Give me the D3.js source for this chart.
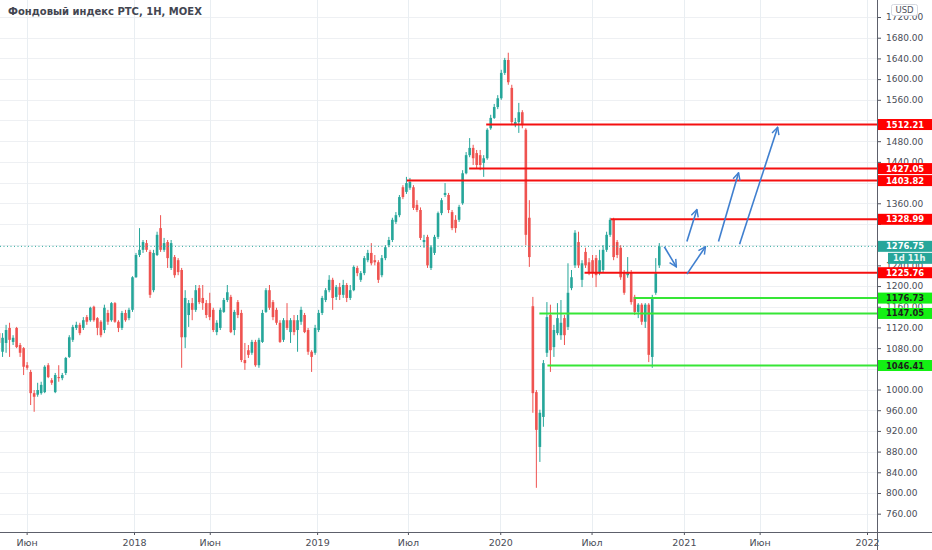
<!DOCTYPE html>
<html>
<head>
<meta charset="utf-8">
<script src="https://cdn.jsdelivr.net/npm/d3@7"></script>
<style>
  body { margin: 0; background: #fff; }
  svg { display: block; }
</style>
</head>
<body>
<div id="chart"></div>
<script>
// weekly candles, RTS index
const title = 'Фондовый индекс РТС, 1Н, MOEX';
const firstWeek = '2017-04-07';
const opens = [1109,1073,1090,1119,1092,1119,1086,1080,1047,1034,993,990,993,995,1047,1018,995,1024,1022,1032,
  1063,1096,1119,1125,1119,1140,1134,1160,1138,1131,1115,1148,1134,1167,1131,1119,1148,1138,1154,1217,
  1260,1270,1283,1266,1192,1260,1312,1270,1285,1235,1256,1250,1231,1101,1144,1167,1154,1196,1177,1167,
  1167,1154,1111,1119,1150,1173,1179,1115,1169,1148,1057,1076,1071,1092,1047,1092,1150,1192,1169,1154,
  1129,1096,1134,1111,1134,1115,1131,1144,1115,1073,1071,1115,1148,1173,1192,1212,1179,1198,1183,1202,
  1177,1192,1235,1212,1225,1250,1264,1250,1246,1221,1254,1279,1289,1324,1337,1391,1382,1390,1391,1357,
  1347,1285,1295,1235,1264,1295,1341,1376,1376,1343,1328,1328,1360,1418,1453,1467,1457,1453,1438,1447,
  1505,1525,1546,1563,1612,1637,1583,1511,1517,1536,1502,1332,1161,995,889,947,1071,1144,1082,1109,
  1105,1138,1121,1196,1240,1285,1212,1266,1246,1250,1254,1227,1231,1270,1299,1328,1285,1274,1227,1221,
  1227,1179,1150,1164,1131,1164,1063,1187,1240];
const highs = [1111,1109,1125,1129,1105,1121,1090,1082,1053,1038,999,1013,1015,1047,1051,1022,1032,1047,1032,1063,
  1105,1125,1131,1129,1140,1144,1160,1162,1140,1134,1164,1154,1169,1169,1134,1152,1154,1158,1219,1264,
  1312,1289,1289,1270,1270,1305,1337,1293,1289,1289,1260,1254,1235,1192,1173,1177,1202,1202,1202,1173,
  1187,1158,1134,1158,1177,1202,1183,1154,1173,1154,1090,1086,1096,1096,1100,1154,1196,1202,1173,1158,
  1134,1138,1167,1138,1144,1144,1160,1148,1119,1076,1125,1154,1181,1196,1221,1216,1202,1206,1212,1206,
  1202,1240,1239,1229,1258,1270,1283,1260,1250,1260,1279,1295,1332,1343,1376,1395,1411,1409,1395,1366,
  1352,1299,1299,1279,1299,1344,1370,1399,1380,1347,1337,1357,1424,1459,1486,1473,1463,1463,1453,1505,
  1531,1552,1569,1618,1641,1651,1589,1525,1554,1540,1505,1366,1179,999,961,1057,1169,1164,1125,1167,
  1173,1144,1244,1231,1308,1305,1250,1274,1254,1260,1260,1270,1279,1305,1332,1332,1289,1279,1231,1256,
  1231,1183,1167,1167,1167,1167,1183,1254,1283];
const lows = [1082,1063,1071,1063,1086,1080,1063,1028,1038,970,957,986,990,993,1022,1009,993,1015,1018,1028,
  1061,1092,1115,1105,1115,1125,1131,1131,1105,1101,1109,1125,1131,1129,1111,1115,1131,1134,1150,1216,
  1256,1264,1266,1177,1188,1258,1266,1266,1235,1231,1216,1221,1042,1080,1121,1134,1150,1165,1154,1138,
  1134,1111,1105,1115,1148,1169,1109,1105,1138,1053,1038,1061,1067,1044,1042,1090,1148,1154,1134,1125,
  1090,1092,1115,1090,1105,1073,1125,1109,1067,1034,1067,1111,1144,1169,1188,1154,1173,1173,1177,1169,
  1173,1190,1219,1208,1221,1246,1240,1240,1206,1217,1250,1275,1285,1320,1333,1368,1378,1386,1347,1343,
  1289,1274,1235,1231,1260,1291,1337,1372,1341,1308,1303,1324,1357,1416,1449,1434,1428,1424,1411,1444,
  1502,1523,1542,1560,1608,1589,1511,1507,1496,1505,1279,1237,955,810,860,928,1063,1034,1063,1105,
  1096,1086,1115,1192,1235,1235,1198,1235,1221,1216,1198,1221,1227,1266,1295,1250,1254,1212,1183,1216,
  1164,1144,1138,1125,1119,1053,1042,1183,1235];
const closes = [1090,1100,1115,1096,1100,1082,1071,1044,1042,993,986,999,1009,1044,1024,1013,1028,1022,1028,1061,
  1101,1121,1125,1109,1134,1131,1158,1134,1119,1105,1158,1131,1167,1131,1119,1148,1134,1154,1217,1260,
  1270,1285,1270,1183,1264,1299,1270,1283,1254,1283,1221,1227,1101,1177,1167,1154,1192,1169,1167,1144,
  1140,1115,1129,1154,1173,1188,1111,1150,1144,1057,1051,1067,1092,1047,1096,1148,1192,1158,1140,1129,
  1092,1134,1119,1134,1111,1134,1154,1111,1073,1063,1119,1148,1177,1192,1212,1177,1198,1183,1202,1177,
  1192,1237,1225,1225,1254,1264,1244,1246,1212,1254,1275,1289,1328,1337,1372,1372,1399,1401,1351,1347,
  1293,1289,1240,1275,1295,1341,1366,1380,1347,1312,1312,1353,1418,1453,1467,1447,1434,1434,1447,1502,
  1525,1546,1563,1612,1637,1594,1517,1517,1536,1511,1299,1256,993,922,955,1051,1140,1076,1115,1138,
  1129,1105,1187,1217,1303,1240,1244,1240,1227,1225,1221,1250,1270,1299,1328,1256,1260,1217,1187,1227,
  1169,1150,1164,1131,1164,1067,1177,1225,1276.75];

const lastPrice = 1276.75;
const countdown = '1d 11h';

const resistance = [1512.21, 1427.05, 1403.82, 1328.99, 1225.76];
const resistanceFrom = ['2019-12-04', '2019-10-31', '2019-06-29', '2020-08-08', '2020-06-17'];
const support = [1176.73, 1147.05, 1046.41];
const supportFrom = ['2020-09-24', '2020-03-19', '2020-04-04'];

// forecast arrows: from date/price -> to date/price
const arrowFromDates = ['2020-11-23', '2021-01-07', '2021-01-07', '2021-03-11', '2021-04-22'];
const arrowFromPrices = [1276, 1223, 1286, 1286, 1281];
const arrowToDates = ['2020-12-17', '2021-02-13', '2021-01-27', '2021-04-20', '2021-07-07'];
const arrowToPrices = [1237, 1276, 1348, 1419, 1507];

const timeTicks = ['2017-06-01', '2018-01-01', '2018-06-01', '2019-01-01', '2019-07-01',
  '2020-01-01', '2020-07-01', '2021-01-01', '2021-06-01', '2022-01-01'];
const timeTickLabels = ['Июн', '2018', 'Июн', '2019', 'Июл', '2020', 'Июл', '2021', 'Июн', '2022'];
const priceTicks = [760, 800, 840, 880, 920, 960, 1000, 1040, 1080, 1120, 1160, 1200, 1240,
  1280, 1320, 1360, 1400, 1440, 1480, 1520, 1560, 1600, 1640, 1680, 1720];

const width = 932, height = 550;
const plotR = 877, plotB = 532;
const up = '#26a69a', down = '#ef5350';
const axisInk = '#50535e';
const font = '"DejaVu Sans", sans-serif';
const parse = d3.utcParse('%Y-%m-%d');

const x = d3.scaleUtc()
  .domain([parse('2018-01-01'), parse('2022-01-01')])
  .range([134, 867]);
const y = d3.scaleLinear()
  .domain([724.6, 1752.9])
  .range([plotB, 0]);

const start = parse(firstWeek);
const candles = closes.map((c, i) => ({
  date: d3.utcDay.offset(start, 7 * i),
  o: opens[i], h: highs[i], l: lows[i], c: c
}));

const svg = d3.select('#chart')
  .append('svg')
  .attr('width', width)
  .attr('height', height)
  .style('font-family', font);

svg.append('defs').append('clipPath')
  .attr('id', 'plot')
  .append('rect')
  .attr('width', plotR)
  .attr('height', plotB);

svg.select('defs').append('marker')
  .attr('id', 'head')
  .attr('viewBox', '0 0 10 10')
  .attr('refX', 9)
  .attr('refY', 5)
  .attr('markerUnits', 'userSpaceOnUse')
  .attr('markerWidth', 9)
  .attr('markerHeight', 9)
  .attr('orient', 'auto')
  .append('path')
  .attr('d', 'M1,1 L9,5 L1,9')
  .attr('fill', 'none')
  .attr('stroke', '#3f7fcf')
  .attr('stroke-width', 1.6);

// grid
const grid = svg.append('g').attr('clip-path', 'url(#plot)');
grid.selectAll('.hg')
  .data(priceTicks)
  .enter().append('line')
  .attr('x1', 0).attr('x2', plotR)
  .attr('y1', d => Math.round(y(d)) + 0.5)
  .attr('y2', d => Math.round(y(d)) + 0.5)
  .attr('stroke', '#eef0f3');
grid.selectAll('.vg')
  .data(timeTicks)
  .enter().append('line')
  .attr('x1', d => Math.round(x(parse(d))) + 0.5)
  .attr('x2', d => Math.round(x(parse(d))) + 0.5)
  .attr('y1', 0).attr('y2', plotB)
  .attr('stroke', '#e9eef2');

// candles
const cg = svg.append('g').attr('clip-path', 'url(#plot)');
const bar = cg.selectAll('g')
  .data(candles)
  .enter().append('g')
  .attr('fill', d => d.c >= d.o ? up : down)
  .attr('stroke', d => d.c >= d.o ? up : down);
bar.append('line')
  .attr('x1', d => x(d.date))
  .attr('x2', d => x(d.date))
  .attr('y1', d => y(d.h))
  .attr('y2', d => y(d.l))
  .attr('stroke-width', 1);
bar.append('rect')
  .attr('stroke', 'none')
  .attr('x', d => x(d.date) - 1.3)
  .attr('width', 2.6)
  .attr('y', d => y(Math.max(d.o, d.c)))
  .attr('height', d => Math.max(1, Math.abs(y(d.o) - y(d.c))));

// last price dotted line
svg.append('line')
  .attr('x1', 0).attr('x2', plotR)
  .attr('y1', y(lastPrice)).attr('y2', y(lastPrice))
  .attr('stroke', up)
  .attr('stroke-dasharray', '1 2.5');

// horizontal levels
const levels = resistance.map((v, i) => ({ v: v, from: resistanceFrom[i], line: '#f51010', tag: '#ff0000', ink: '#ffffff' }))
  .concat(support.map((v, i) => ({ v: v, from: supportFrom[i], line: '#36e636', tag: '#14f014', ink: '#1c1c1c' })));

svg.append('g').selectAll('line')
  .data(levels)
  .enter().append('line')
  .attr('x1', d => x(parse(d.from)))
  .attr('x2', plotR)
  .attr('y1', d => y(d.v))
  .attr('y2', d => y(d.v))
  .attr('stroke', d => d.line)
  .attr('stroke-width', 2);

// arrows
svg.append('g').selectAll('line')
  .data(arrowFromDates)
  .enter().append('line')
  .attr('x1', d => x(parse(d)))
  .attr('y1', (d, i) => y(arrowFromPrices[i]))
  .attr('x2', (d, i) => x(parse(arrowToDates[i])))
  .attr('y2', (d, i) => y(arrowToPrices[i]))
  .attr('stroke', '#3f7fcf')
  .attr('stroke-width', 1.6)
  .attr('marker-end', 'url(#head)');

// price axis; labels sitting under a tag are hidden like on the scale
const tagPrices = levels.map(d => d.v).concat([lastPrice]);
const hidden = d => tagPrices.some(t => Math.abs(y(t) - y(d)) < 6);
const yAxis = svg.append('g')
  .attr('transform', 'translate(' + plotR + ',0)')
  .call(d3.axisRight(y).tickValues(priceTicks).tickFormat(d3.format('.2f')).tickSize(4).tickPadding(5));
yAxis.select('.domain').remove();
yAxis.selectAll('line').attr('stroke', axisInk);
yAxis.selectAll('text')
  .attr('fill', '#4a4d57')
  .style('font-size', '9px')
  .style('font-family', font);
yAxis.selectAll('.tick').filter(hidden).select('text').remove();

// time axis
const xAxis = svg.append('g')
  .attr('transform', 'translate(0,' + plotB + ')')
  .call(d3.axisBottom(x).tickValues(timeTicks.map(parse)).tickFormat((d, i) => timeTickLabels[i]).tickSize(3).tickPadding(4));
xAxis.select('.domain').remove();
xAxis.selectAll('line').attr('stroke', axisInk);
xAxis.selectAll('text')
  .attr('fill', '#4a4d57')
  .style('font-size', '9.5px')
  .style('font-family', font);

// borders
svg.append('line')
  .attr('x1', 0).attr('x2', width)
  .attr('y1', plotB + 0.5).attr('y2', plotB + 0.5)
  .attr('stroke', '#5d606b');
svg.append('line')
  .attr('x1', plotR + 0.5).attr('x2', plotR + 0.5)
  .attr('y1', 0).attr('y2', height)
  .attr('stroke', '#5d606b');

// tags on the price scale
const tags = svg.append('g').selectAll('g')
  .data(levels.concat([{ v: lastPrice, tag: up, ink: '#ffffff' }]))
  .enter().append('g')
  .attr('transform', d => 'translate(' + (plotR + 1) + ',' + y(d.v) + ')');
tags.append('rect')
  .attr('y', -5.5)
  .attr('width', width - plotR)
  .attr('height', 11)
  .attr('fill', d => d.tag);
tags.append('text')
  .attr('x', 8)
  .attr('dy', '0.36em')
  .attr('fill', d => d.ink)
  .style('font-size', '8.4px')
  .style('font-weight', 'bold')
  .text(d => d3.format('.2f')(d.v));

const timer = svg.append('g')
  .attr('transform', 'translate(888,' + (y(lastPrice) + 6.5) + ')');
timer.append('rect')
  .attr('width', width - 888)
  .attr('height', 11)
  .attr('fill', up);
timer.append('text')
  .attr('x', 5)
  .attr('y', 5.5)
  .attr('dy', '0.36em')
  .attr('fill', '#e8f6f4')
  .style('font-size', '8.4px')
  .style('font-weight', 'bold')
  .text(countdown);

// currency box
const usd = svg.append('g').attr('transform', 'translate(891.5,4.5)');
usd.append('rect')
  .attr('width', 26)
  .attr('height', 11)
  .attr('rx', 2)
  .attr('fill', '#fff')
  .attr('stroke', '#d6d9e0');
usd.append('text')
  .attr('x', 13)
  .attr('y', 5.5)
  .attr('dy', '0.36em')
  .attr('text-anchor', 'middle')
  .attr('fill', '#50535e')
  .style('font-size', '8.5px')
  .text('USD');

// title
svg.append('text')
  .attr('x', 8)
  .attr('y', 14.5)
  .attr('fill', '#434651')
  .style('font-size', '10px')
  .style('font-weight', 'bold')
  .text(title);
</script>
</body>
</html>
